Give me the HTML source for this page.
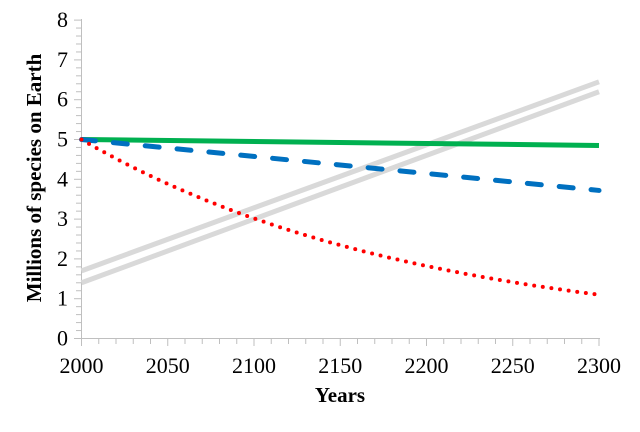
<!DOCTYPE html>
<html><head><meta charset="utf-8"><style>body{margin:0;background:#fff}</style></head><body>
<svg width="640" height="427" xmlns="http://www.w3.org/2000/svg" font-family="Liberation Serif, serif">
<g stroke="#bfbfbf" stroke-width="1">
<line x1="81.5" y1="19" x2="81.5" y2="346"/>
<line x1="75" y1="338.5" x2="600" y2="338.5"/>
<g id="yt"></g><g id="xt"></g>
</g>
<g font-size="22" fill="#000" text-anchor="end" id="yl"></g>
<g font-size="22" fill="#000" text-anchor="middle" id="xl"></g>
<text x="340" y="402" font-size="21" font-weight="bold" text-anchor="middle">Years</text>
<text transform="translate(41,178) rotate(-90)" font-size="21" font-weight="bold" text-anchor="middle">Millions of species on Earth</text>
<g id="series"></g>
</svg>
<script>
var X=function(t){return 81.5+(t-2000)*(517.5/300)},Y=function(v){return 338.5-v*39.8};
var ns="http://www.w3.org/2000/svg";
function el(p,n,a,t){var e=document.createElementNS(ns,n);for(var k in a)e.setAttribute(k,a[k]);if(t!=null)e.textContent=t;document.getElementById(p).appendChild(e);return e}
for(var i=0;i<=40;i++){var y=Y(i*0.2);el("yt","line",{x1:i%5==0?74:76,x2:81.5,y1:y,y2:y})}
for(var t=2000;t<=2300;t+=10){var x=X(t);el("xt","line",{x1:x,x2:x,y1:338.5,y2:t%50==0?346:344})}
for(var i=0;i<=8;i++)el("yl","text",{x:68,y:Y(i)+7},i);
for(var t=2000;t<=2300;t+=50)el("xl","text",{x:X(t),y:373},t);
el("series","line",{x1:X(2000),y1:Y(1.7),x2:X(2300),y2:Y(6.45),stroke:"#d9d9d9","stroke-width":5});
el("series","line",{x1:X(2000),y1:Y(1.4),x2:X(2300),y2:Y(6.2),stroke:"#d9d9d9","stroke-width":5});
el("series","line",{x1:X(2000),y1:Y(5.0),x2:X(2300),y2:Y(4.85),stroke:"#00b050","stroke-width":5});
el("series","line",{x1:X(2000),y1:Y(5.0),x2:X(2300),y2:Y(3.72),stroke:"#0070c0","stroke-width":5,"stroke-dasharray":"14 18","stroke-linecap":"round"});
var k=Math.log(5/1.1)/300,d="";
for(var t=2000;t<=2300;t+=2)d+=(t==2000?"M":"L")+X(t)+","+Y(5*Math.exp(-k*(t-2000)));
el("series","path",{d:d,fill:"none",stroke:"#ff0000","stroke-width":4,"stroke-dasharray":"0 8.7","stroke-linecap":"round"});
</script>
</body></html>
